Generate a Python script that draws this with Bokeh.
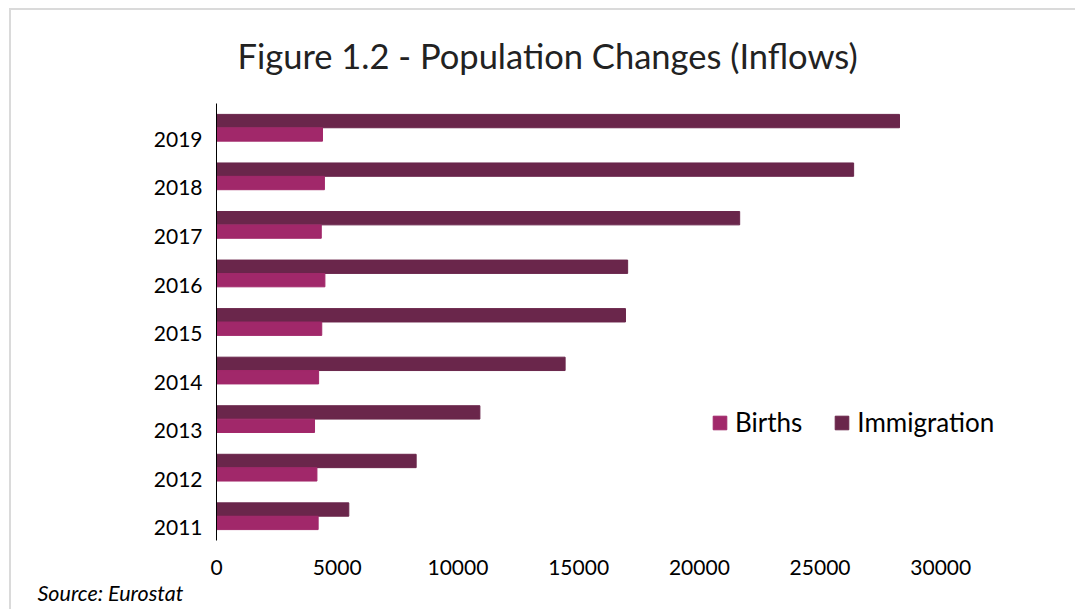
from bokeh.plotting import figure
from bokeh.models import (Range1d, FixedTicker, CustomJSTickFormatter, Title,
                          Legend, LegendItem)
from bokeh.transform import dodge
from bokeh.embed import file_html
from bokeh.resources import INLINE
import numpy as np

# Population inflows per year
years = ["2011", "2012", "2013", "2014", "2015", "2016", "2017", "2018", "2019"]
births = [4210, 4160, 4060, 4230, 4360, 4490, 4340, 4470, 4390]
immigration = [5480, 8270, 10910, 14440, 16940, 17030, 21670, 26390, 28290]
x_ticks = [0, 5000, 10000, 15000, 20000, 25000, 30000]

FONT = "Lato"
BIRTHS_COLOR = "#A1286A"
IMMIG_COLOR = "#6A264B"

pos = np.arange(len(years))
source = dict(y=pos, births=births, immigration=immigration)

p = figure(width=1075, height=609, output_backend="svg", toolbar_location=None,
           x_range=Range1d(0, 35000), y_range=Range1d(-0.5, len(years) - 0.5),
           min_border_left=216, min_border_right=14, min_border_top=103,
           min_border_bottom=69)
# thin grey page rule along the top and left edges, drawn behind a transparent canvas
p.border_fill_color = None
p.background_fill_color = None
p.styles = {
    "background-color": "white",
    "background-image": "linear-gradient(#dadada, #dadada), linear-gradient(#dadada, #dadada)",
    "background-repeat": "no-repeat",
    "background-position": "9px 8px, 9px 8px",
    "background-size": "100% 2px, 2px 100%",
}

bar_h = 0.275
r_imm = p.hbar(y=dodge("y", 0.138), right="immigration", left=0, height=bar_h,
               source=source, fill_color=IMMIG_COLOR, line_color=IMMIG_COLOR)
r_bir = p.hbar(y=dodge("y", -0.138), right="births", left=0, height=bar_h,
               source=source, fill_color=BIRTHS_COLOR, line_color=BIRTHS_COLOR)

p.title.text = "Figure 1.2 - Population Changes (Inflows)"
p.title.text_font = FONT
p.title.text_font_size = "34.5px"
p.title.text_font_style = "normal"
p.title.text_color = "#222222"
p.title.align = "left"
p.title.offset = 21
p.title.standoff = 55

p.grid.visible = False
p.outline_line_color = None

# Year labels sit slightly below the centre of each bar pair
p.yaxis.ticker = FixedTicker(ticks=list(pos - 0.24))
p.yaxis.formatter = CustomJSTickFormatter(args=dict(labels=years),
                                          code="return labels[Math.round(tick + 0.24)];")
p.yaxis.major_tick_line_color = None
p.yaxis.minor_tick_line_color = None
p.yaxis.axis_line_color = "#000000"
p.yaxis.major_label_text_font = FONT
p.yaxis.major_label_text_font_size = "21px"
p.yaxis.major_label_text_color = "#000000"
p.yaxis.major_label_standoff = 8

p.xaxis.ticker = FixedTicker(ticks=x_ticks)
p.xaxis.axis_line_color = None
p.xaxis.major_tick_line_color = None
p.xaxis.minor_tick_line_color = None
p.xaxis.major_label_text_font = FONT
p.xaxis.major_label_text_font_size = "21px"
p.xaxis.major_label_text_color = "#000000"
p.xaxis.major_label_standoff = 13

legend = Legend(items=[LegendItem(label="Births", renderers=[r_bir]),
                       LegendItem(label="Immigration", renderers=[r_imm])],
                orientation="horizontal", location=(495, 102),
                label_text_font=FONT, label_text_font_size="26px",
                label_text_color="#000000", glyph_width=17, glyph_height=17,
                label_standoff=7, spacing=31, padding=0, margin=0,
                border_line_color=None, background_fill_alpha=0)
p.add_layout(legend, "center")

src = Title(text="Source: Eurostat", align="left", offset=-179, standoff=0,
            text_font=FONT, text_font_size="21.5px", text_font_style="italic",
            text_color="#000000")
p.add_layout(src, "below")

open("out.html", "w").write(file_html(p, INLINE))
